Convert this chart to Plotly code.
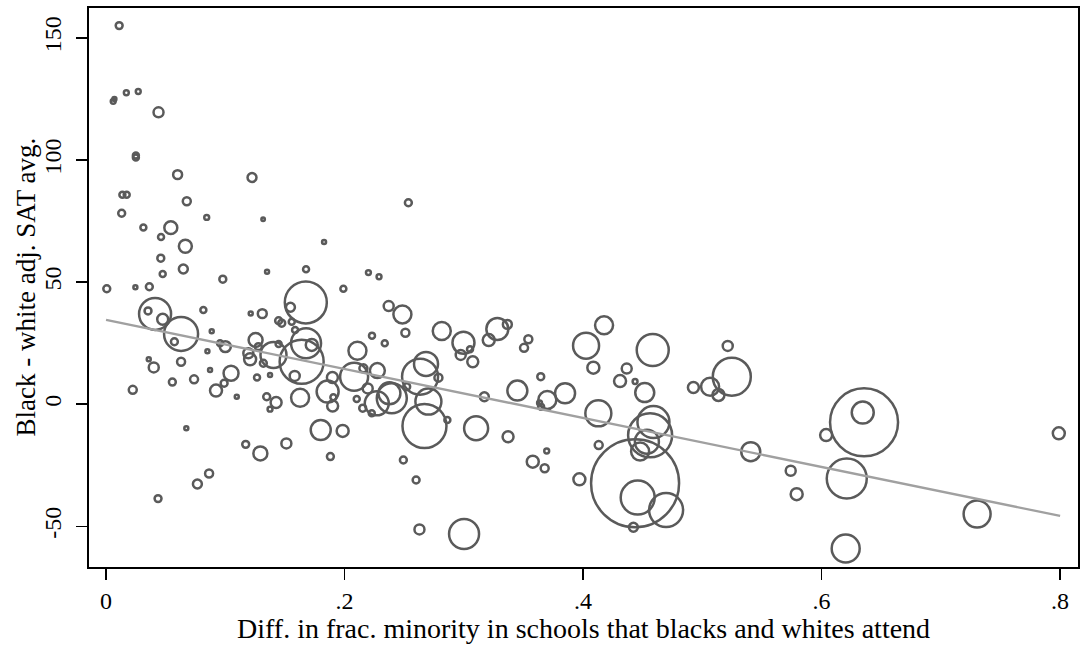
import plotly.graph_objects as go

# Diff. in frac. minority (x), Black-white adj. SAT avg. (y), weight
frac_diff = [
    0.011, 0.006, 0.007, 0.017, 0.027, 0.044, 0.025, 0.025, 0.060, 0.1224,
    0.0137, 0.0173, 0.0677, 0.0131, 0.0844, 0.1317, 0.0313, 0.0543, 0.0461, 0.0665,
    0.1828, 0.0459, 0.0648, 0.135, 0.1677, 0.0475, 0.0979, 0.0006, 0.0246, 0.0363,
    0.199, 0.1675, 0.0411, 0.0352, 0.0816, 0.1213, 0.131, 0.1546, 0.0475, 0.0629,
    0.0573, 0.0886, 0.100, 0.0956, 0.085, 0.0358, 0.040, 0.0629, 0.0556, 0.0738,
    0.0872, 0.1048, 0.099, 0.0922, 0.1096, 0.0224, 0.0673, 0.1171, 0.1294, 0.1512,
    0.1881, 0.0864, 0.0766, 0.0436, 0.180, 0.1984, 0.1447, 0.1473, 0.1585, 0.1677,
    0.164, 0.1725, 0.1254, 0.1277, 0.1193, 0.1208, 0.1319, 0.1404, 0.1447, 0.1375,
    0.1266, 0.1582, 0.1627, 0.1347, 0.1426, 0.1375, 0.1858, 0.190, 0.1898, 0.1906,
    0.2102, 0.220, 0.2289, 0.237, 0.2485, 0.251, 0.223, 0.2337, 0.2108, 0.208,
    0.2275, 0.2194, 0.2152, 0.227, 0.2228, 0.2376, 0.2396, 0.2521, 0.2683, 0.2633,
    0.2787, 0.2703, 0.267, 0.2862, 0.2815, 0.2997, 0.2974, 0.3052, 0.3075, 0.3209,
    0.3281, 0.3365, 0.3541, 0.3505, 0.3172, 0.3449, 0.3103, 0.3371, 0.2493, 0.260,
    0.2628, 0.3002, 0.3645, 0.3648, 0.370, 0.3849, 0.3695, 0.3578, 0.3678, 0.4025,
    0.4176, 0.4086, 0.4366, 0.431, 0.4436, 0.4517, 0.4584, 0.4128, 0.4131, 0.3969,
    0.4436, 0.4458, 0.4696, 0.4422, 0.4562, 0.459, 0.4535, 0.4478, 0.4925, 0.5065,
    0.5135, 0.5247, 0.5213, 0.5406, 0.5741, 0.5791, 0.6038, 0.6211, 0.6202, 0.6356,
    0.6345, 0.7304, 0.7989, 0.2535, 0.2158, 0.1557, 0.3635,
]
sat_gap = [
    155.0, 124.0, 125.0, 127.5, 128.0, 119.5, 101.0, 101.8, 94.0, 92.8,
    85.8, 85.8, 83.1, 78.2, 76.5, 75.7, 72.4, 72.3, 68.5, 64.7,
    66.4, 59.8, 55.4, 54.2, 55.3, 53.3, 51.2, 47.3, 47.9, 48.1,
    47.3, 41.7, 37.0, 38.2, 38.6, 37.2, 37.1, 39.7, 34.8, 28.8,
    25.6, 29.9, 23.6, 25.0, 21.7, 18.4, 15.1, 17.4, 9.1, 10.2,
    14.0, 12.7, 8.6, 5.6, 3.1, 5.9, -9.8, -16.4, -20.1, -16.0,
    -21.4, -28.3, -32.6, -38.6, -10.5, -10.9, 34.2, 33.2, 30.4, 25.0,
    17.4, 24.3, 26.3, 23.6, 20.9, 18.4, 16.8, 20.2, 24.7, 12.0,
    11.0, 11.6, 2.7, 3.1, 0.7, -2.0, 5.2, -0.7, 11.0, 2.9,
    2.2, 53.9, 52.2, 40.2, 36.8, 29.3, 28.1, 25.0, 21.9, 11.3,
    13.8, 6.5, -1.6, 0.4, -3.7, 4.5, 2.5, 7.2, 16.5, 11.3,
    10.9, 1.1, -8.9, -6.4, 30.0, 25.2, 20.2, 22.5, 17.4, 26.3,
    30.8, 32.7, 26.6, 23.1, 3.1, 5.6, -9.8, -13.3, -22.8, -31.0,
    -51.2, -53.1, 11.3, -1.0, 1.8, 4.5, -19.1, -23.5, -26.2, 24.0,
    32.3, 15.0, 14.6, 9.5, 9.3, 4.8, 22.2, -3.7, -16.7, -30.7,
    -32.3, -38.2, -43.3, -50.3, -12.7, -7.3, -15.3, -19.3, 6.9, 7.2,
    3.8, 11.3, 23.9, -19.4, -27.2, -36.8, -12.6, -30.4, -59.0, -7.4,
    -3.4, -44.9, -11.9, 82.5, 14.7, 33.8, 0.5,
]
weight = [
    12, 6, 4, 6, 6, 25, 9, 9, 20, 20,
    9, 9, 16, 12, 6, 3, 9, 42, 9, 42,
    4, 12, 20, 4, 9, 9, 12, 12, 4, 12,
    9, 441, 256, 12, 9, 4, 20, 20, 30, 289,
    12, 4, 30, 9, 4, 4, 25, 16, 12, 16,
    4, 56, 12, 36, 4, 16, 4, 12, 49, 25,
    12, 16, 20, 12, 100, 36, 12, 12, 9, 225,
    484, 36, 49, 12, 25, 36, 12, 169, 9, 4,
    9, 25, 81, 12, 30, 6, 121, 30, 30, 9,
    9, 6, 6, 25, 81, 16, 9, 9, 81, 196,
    56, 25, 12, 144, 9, 121, 225, 12, 144, 324,
    16, 169, 484, 9, 81, 121, 25, 9, 30, 36,
    121, 20, 16, 16, 20, 100, 144, 30, 12, 12,
    25, 225, 12, 9, 81, 100, 6, 36, 16, 169,
    81, 36, 25, 36, 6, 90, 256, 169, 16, 36,
    1936, 289, 289, 20, 484, 256, 144, 81, 30, 81,
    36, 361, 25, 90, 25, 36, 36, 400, 196, 1156,
    121, 182, 36, 12, 16, 9, 6,
]

# Fitted values (linear fit) at the ends of the x range
fit_x = [0.0, 0.8]
fit_y = [34.5, -45.7]

x_ticks = [0, 0.2, 0.4, 0.6, 0.8]
x_ticklabels = ["0", ".2", ".4", ".6", ".8"]
y_ticks = [-50, 0, 50, 100, 150]
y_ticklabels = ["-50", "0", "50", "100", "150"]

x_title = "Diff. in frac. minority in schools that blacks and whites attend"
y_title = "Black - white adj. SAT avg."

FONT = "Liberation Serif"
MARK = "#5a5a5a"

fig = go.Figure()
fig.add_trace(go.Scatter(
    x=frac_diff, y=sat_gap, mode="markers",
    marker=dict(symbol="circle", size=weight, sizemode="area", sizeref=0.5,
                opacity=1, color="rgba(0,0,0,0)", line=dict(width=2.5, color=MARK)),
    showlegend=False, hoverinfo="skip",
))
fig.add_trace(go.Scatter(
    x=fit_x, y=fit_y, mode="lines",
    line=dict(color="#a0a0a0", width=2.3),
    showlegend=False, hoverinfo="skip",
))

fig.update_layout(
    width=1080, height=646,
    margin=dict(l=89, r=2, t=8, b=79, autoexpand=False),
    paper_bgcolor="white", plot_bgcolor="white",
    font=dict(family=FONT, size=24, color="black"),
    xaxis=dict(
        range=[-0.0143, 0.815], tickvals=x_ticks, ticktext=x_ticklabels,
        showgrid=False, zeroline=False, showline=True, mirror=True,
        linecolor="black", linewidth=1.8, ticks="outside", ticklen=11,
        tickwidth=1.8, tickcolor="black", tickfont=dict(size=24),
        automargin=False,
    ),
    yaxis=dict(
        range=[-66.6, 162.2], tickvals=y_ticks, ticktext=y_ticklabels,
        showgrid=False, zeroline=False, showline=True, mirror=True,
        linecolor="black", linewidth=1.8, ticks="outside", ticklen=11,
        tickwidth=1.8, tickcolor="black", tickangle=-90, tickfont=dict(size=24),
        ticklabelstandoff=6, automargin=False,
    ),
    annotations=[
        dict(text=x_title, xref="paper", yref="paper", x=0.5, y=0,
             xanchor="center", yanchor="middle", yshift=-61, showarrow=False,
             font=dict(size=28)),
        dict(text=y_title, xref="paper", yref="paper", x=0, y=0.5,
             xanchor="center", yanchor="middle", xshift=-64, textangle=-90,
             showarrow=False, font=dict(size=27)),
    ],
)

fig.write_html(
    "out.html",
    config={"displayModeBar": False, "staticPlot": True},
    post_script="document.body.style.margin='0';document.body.style.overflow='hidden';",
)
